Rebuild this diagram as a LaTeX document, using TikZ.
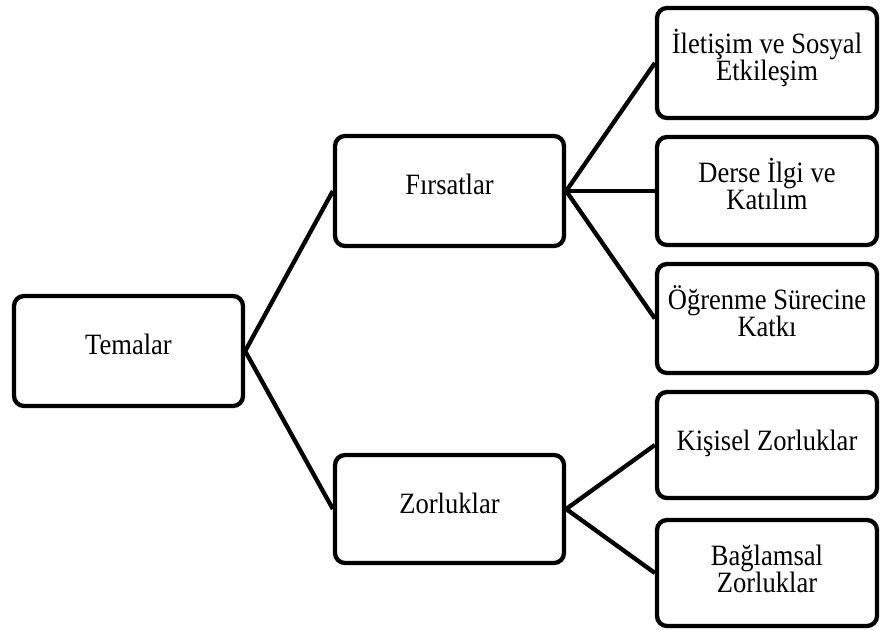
\documentclass[tikz,border=0pt]{standalone}
\usepackage{fontspec}
\setmainfont[FakeStretch=0.9]{Liberation Serif}
\begin{document}
\begin{tikzpicture}[x=1pt,y=1pt,
  box/.style={draw=black, line width=4.3pt, rounded corners=10pt, fill=none,
    minimum width=#1, inner sep=0pt},
  box/.default=229pt,
  txt/.style={font=\fontsize{29.5}{27.5}\selectfont, align=center, anchor=base,
    inner sep=0pt, text=black},
  link/.style={draw=black, line width=4.3pt}]
\useasboundingbox (0,0) rectangle (880,-629);
\fill[white] (0,0) rectangle (880,-629);
% boxes
\node[box, minimum height=110pt] (tem) at (128.5,-351) {};
\node[box, minimum height=110pt] (fir) at (449.5,-191) {};
\node[box, minimum height=108pt] (zor) at (449.5,-509) {};
\node[box=220pt, minimum height=110pt] (b1) at (767,-63) {};
\node[box=220pt, minimum height=108pt] (b2) at (767,-191) {};
\node[box=220pt, minimum height=109pt] (b3) at (767,-318.5) {};
\node[box=220pt, minimum height=106pt] (b4) at (767,-445) {};
\node[box=220pt, minimum height=106pt] (b5) at (767,-573) {};
% texts
\node[txt] (ttem) at ([yshift=-61pt]tem.north) {Temalar};
\node[txt] (tfir) at ([yshift=-61pt]fir.north) {Fırsatlar};
\node[txt] (tzor) at ([yshift=-61pt]zor.north) {Zorluklar};
\node[txt] (tb1) at ([yshift=-75pt]b1.north) {İletişim ve Sosyal\\Etkileşim};
\node[txt] (tb2) at ([yshift=-75pt]b2.north) {Derse İlgi ve\\Katılım};
\node[txt] (tb3) at ([yshift=-75pt]b3.north) {Öğrenme Sürecine\\Katkı};
\node[txt] (tb4) at ([yshift=-61pt]b4.north) {Kişisel Zorluklar};
\node[txt] (tb5) at ([yshift=-75pt]b5.north) {Bağlamsal\\Zorluklar};
% connectors
\draw[link] (tem.east) -- (fir.west);
\draw[link] (tem.east) -- (zor.west);
\draw[link] (fir.east) -- (b1.west);
\draw[link] (fir.east) -- (b2.west);
\draw[link] (fir.east) -- (b3.west);
\draw[link] (zor.east) -- (b4.west);
\draw[link] (zor.east) -- (b5.west);
\end{tikzpicture}
\end{document}
